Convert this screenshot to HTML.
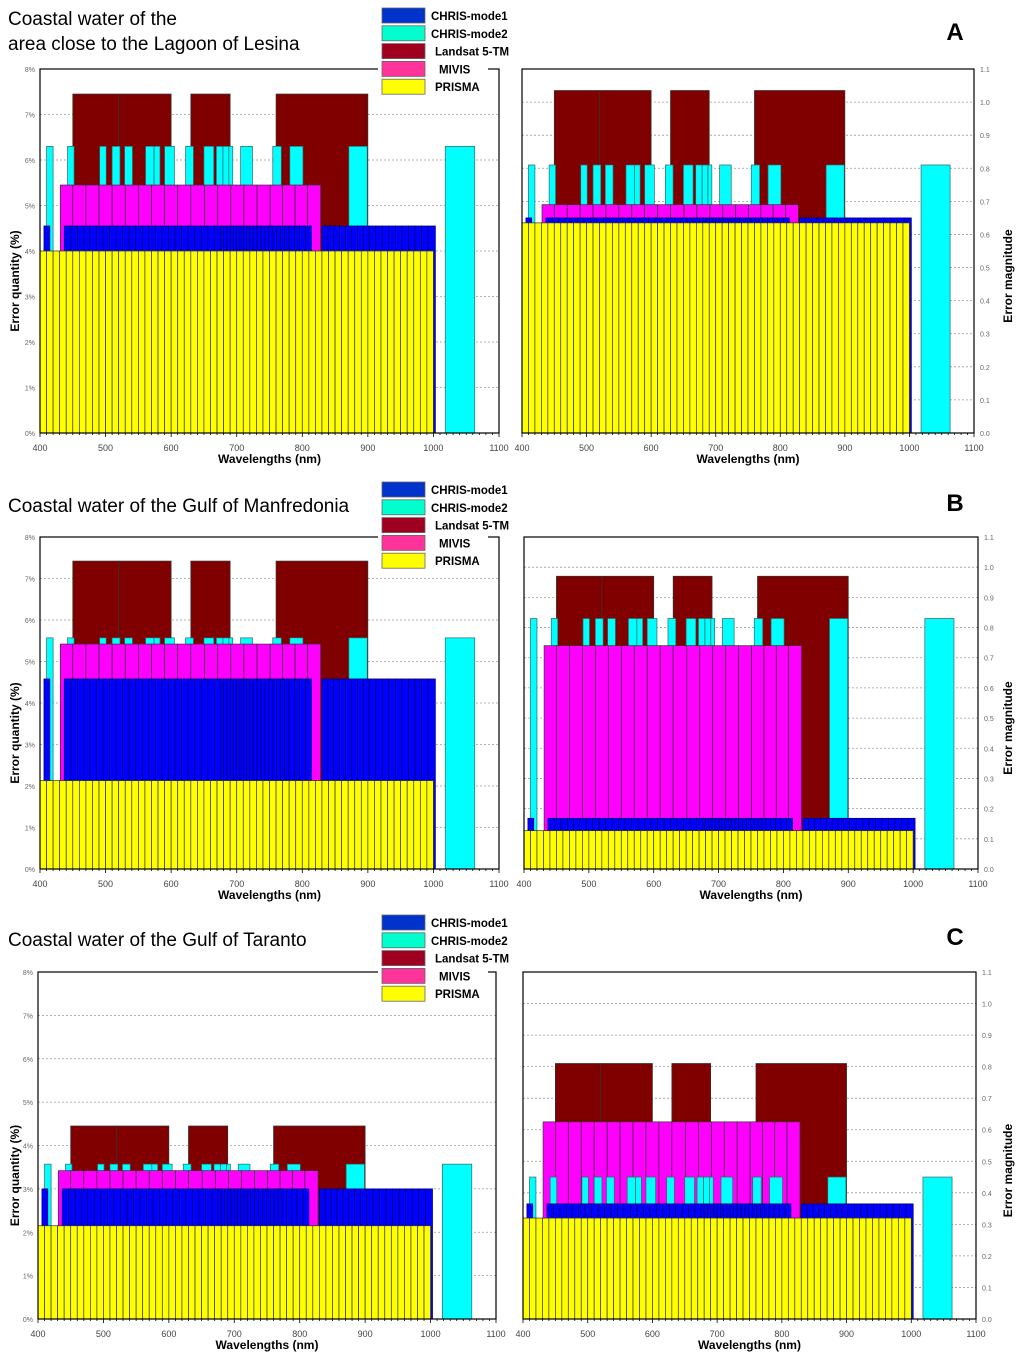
<!DOCTYPE html>
<html><head><meta charset="utf-8"><style>
html,body{margin:0;padding:0;background:#fff;}
svg{display:block;font-family:"Liberation Sans",Arial,sans-serif;}
</style></head><body>
<svg id="chart" width="1024" height="1360" viewBox="0 0 1024 1360" xmlns="http://www.w3.org/2000/svg"></svg>
<script>
// ---- data ----
const sensors = ["CHRIS-mode1","CHRIS-mode2","Landsat 5-TM","MIVIS","PRISMA"];
const landsatBands = [[450,520],[520,600],[630,690],[760,900]];
const chris2Bands = [[410,420],[442,452],[491,501],[510,522],[529,541],[561,574],[574,583],[590,605],[622,634],[650,665],[669,679],[679,688],[688,694],[706,724],[755,768],[781,801],[871,899],[1018,1063]];
const mivisEdges = [431,450,470,490,510,530,550,570,590,610,630,651,671,691,711,731,751,770,789,808,828];
const chris1Edges = [437,447,457,467,476,486,496,506,516,526,536,546,556,566,576,586,596,606,616,626,636,646,656,666,675,680,685,690,695,700,705,710,715,720,725,731,737,743,749,755,761,767,773,780,788,796,805,814];
const chris1Edges2 = [830,839,848,857,866,875,884,893,902,912,922,932,942,952,962,972,982,992,1003];
const chris1Extra = [[406,415]];
const prismaEdges = [400,410,420,430,440,450,460,470,480,490,500,510,520,530,540,550,560,570,580,590,600,610,620,630,640,650,660,670,680,690,700,710,720,730,740,750,760,770,780,790,800,810,820,830,840,850,860,870,880,890,900,910,920,930,940,950,960,970,980,990,1000];
// heights order: CHRIS-mode1, CHRIS-mode2, Landsat, MIVIS, PRISMA
const heightsALeft  = [4.55, 6.3, 7.45, 5.45, 4.0];
const heightsARight = [0.65, 0.81, 1.035, 0.69, 0.635];
const heightsBLeft  = [4.58, 5.57, 7.42, 5.42, 2.13];
const heightsBRight = [0.168, 0.83, 0.97, 0.74, 0.127];
const heightsCLeft  = [3.0, 3.57, 4.45, 3.42, 2.15];
const heightsCRight = [0.365, 0.45, 0.81, 0.625, 0.32];
const xTicks = [400,500,600,700,800,900,1000,1100];
const pctTicks = [0,1,2,3,4,5,6,7,8];
const magTicks = [0,0.1,0.2,0.3,0.4,0.5,0.6,0.7,0.8,0.9,1.0,1.1];

const NS="http://www.w3.org/2000/svg";
const svg=document.getElementById('chart');
function mk(tag,attrs,parent){const e=document.createElementNS(NS,tag);for(const k in attrs)e.setAttribute(k,attrs[k]);(parent||svg).appendChild(e);return e;}
const colors=["#0000ff","#00ffff","#800000","#ff00ff","#ffff00"];
const strokes=["#000066","#336666","#333","#333","#333"];

function bandsFor(i){
  if(i===0){const b=[];b.push(...chris1Extra);for(let k=0;k<chris1Edges.length-1;k++)b.push([chris1Edges[k],chris1Edges[k+1]]);for(let k=0;k<chris1Edges2.length-1;k++)b.push([chris1Edges2[k],chris1Edges2[k+1]]);return b;}
  if(i===1)return chris2Bands;
  if(i===2)return landsatBands;
  if(i===3){const b=[];for(let k=0;k<mivisEdges.length-1;k++)b.push([mivisEdges[k],mivisEdges[k+1]]);return b;}
  const b=[];for(let k=0;k<prismaEdges.length-1;k++)b.push([prismaEdges[k],prismaEdges[k+1]]);return b;
}

function panel(id,geo,heights,isPct){
  const g=mk('g',{});
  
  
  const ymax=isPct?8:1.1;
  const xs=v=>geo.x0+(v-400)/700*(geo.x1-geo.x0);
  const ys=v=>geo.yb-v/ymax*(geo.yb-geo.yt);
  const ticks=isPct?pctTicks:magTicks;
  ticks.forEach(t=>{
    if(t>0){const l=mk('line',{x1:geo.x0,x2:geo.x1,y1:ys(t),y2:ys(t),stroke:'#999','stroke-width':0.8,'stroke-dasharray':'2,2'},g);
      }
    const tx=mk('text',{x:isPct?geo.x0-5:geo.x1+6,y:ys(t)+3,'font-size':7,fill:'#666','text-anchor':isPct?'end':'start'},g);
    tx.textContent=isPct?(t+'%'):t.toFixed(1);
    
  });
  const order=[0,1,2,3,4].sort((a,b)=>heights[b]-heights[a]);
  order.forEach(i=>{
    const sg=mk('g',{},g);
    
    
    bandsFor(i).forEach(b=>{
      const r=mk('rect',{x:xs(b[0]),y:ys(heights[i]),width:xs(b[1])-xs(b[0]),height:ys(0)-ys(heights[i]),fill:colors[i],stroke:strokes[i],'stroke-width':0.7},sg);
      
    });
  });
  const fr=mk('rect',{x:geo.x0,y:geo.yt,width:geo.x1-geo.x0,height:geo.yb-geo.yt,fill:'none',stroke:'#000','stroke-width':1.2},g);
  
  for(let w=400;w<=1100;w+=10){
    const l=mk('line',{x1:xs(w),x2:xs(w),y1:geo.yb,y2:geo.yb+(w%100===0?4:2),stroke:'#000','stroke-width':0.8},g);
    
  }
  xTicks.forEach(t=>{
    const tx=mk('text',{x:xs(t),y:geo.yb+18,'font-size':9,fill:'#444','text-anchor':'middle'},g);
    tx.textContent=t;
  });
  const xt=mk('text',{x:(geo.x0+geo.x1)/2,y:geo.yb+30,'font-size':12,'font-weight':'bold','text-anchor':'middle'},g);
  xt.textContent='Wavelengths (nm)';
  const cy=(geo.yt+geo.yb)/2+30;
  if(isPct){
    const yt=mk('text',{x:19,y:cy,'font-size':12,'font-weight':'bold','text-anchor':'middle',transform:`rotate(-90 19 ${cy})`},g);
    yt.textContent='Error quantity (%)';
  } else {
    const yy=cy-5;
    const yt=mk('text',{x:1012,y:yy,'font-size':12,'font-weight':'bold','text-anchor':'middle',transform:`rotate(-90 1012 ${yy})`},g);
    yt.textContent='Error magnitude';
  }
}

function legend(y0){
  const g=mk('g',{});
  
  mk('rect',{x:378,y:y0-2,width:110,height:93,fill:'#fff'},g);
  const lc=["#0033cc","#00ffcc","#a00020","#ff3399","#ffff00"];
  sensors.forEach((s,i)=>{
    const r=mk('rect',{x:382,y:y0+i*17.8,width:43,height:15,fill:lc[i],stroke:'#666','stroke-width':0.8},g);
    
    const t=mk('text',{x:i>=2?(i===3?439:435):431,y:y0+i*17.8+12,'font-size':11.5,'font-weight':'bold'},g);
    t.textContent=s;
  });
}
function title(lines,y,letter,ly){
  lines.forEach((l,i)=>{const t=mk('text',{x:8,y:y+i*25,'font-size':19});t.textContent=l;
    });
  const L=mk('text',{x:955,y:ly,'font-size':24,'font-weight':'bold','text-anchor':'middle'});
  L.textContent=letter;
}

panel('a-left',{x0:40,x1:499,yt:69,yb:433},heightsALeft,true);
panel('a-right',{x0:522,x1:974,yt:69,yb:433},heightsARight,false);
panel('b-left',{x0:40,x1:499,yt:537,yb:869},heightsBLeft,true);
panel('b-right',{x0:524,x1:978,yt:537,yb:869},heightsBRight,false);
panel('c-left',{x0:38,x1:496,yt:972,yb:1319},heightsCLeft,true);
panel('c-right',{x0:523,x1:976,yt:972,yb:1319},heightsCRight,false);
legend(8);legend(482);legend(915);
title(["Coastal water of the","area close to the Lagoon of Lesina"],25,'A',40);
title(["Coastal water of the Gulf of Manfredonia"],512,'B',511);
title(["Coastal water of the Gulf of Taranto"],946,'C',945);
</script>
</body></html>
